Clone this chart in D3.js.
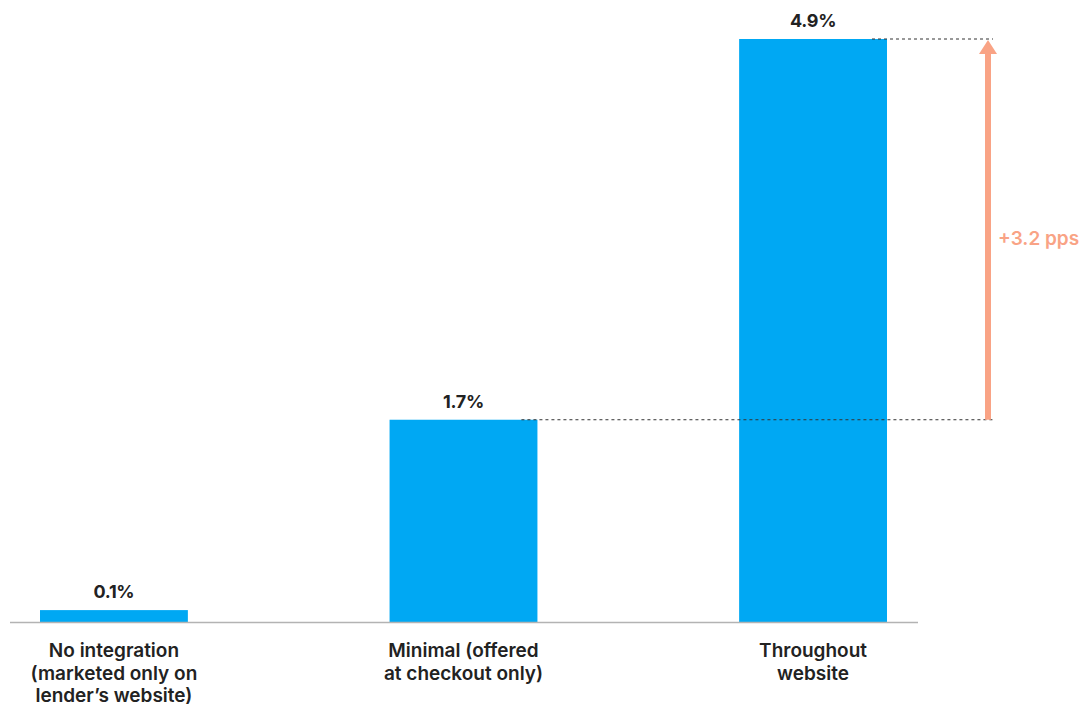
<!DOCTYPE html>
<html>
<head>
<meta charset="utf-8">
<script src="https://cdn.jsdelivr.net/npm/d3@7"></script>
<style>
  html, body { margin: 0; padding: 0; background: #fff; }
  svg text { font-family: Inter, "Liberation Sans", Arial, sans-serif; }
</style>
</head>
<body>
<svg id="chart" width="1083" height="704"></svg>
<script>
// Share of customers by level of integration
const categories = ["No integration", "Minimal", "Throughout website"];
const categoryLines = [
  ["No integration", "(marketed only on", "lender\u2019s website)"],
  ["Minimal (offered", "at checkout only)"],
  ["Throughout", "website"]
];
const values = [0.1, 1.7, 4.9];
const valueLabels = ["0.1%", "1.7%", "4.9%"];
const deltaLabel = "+3.2 pps";

const svg = d3.select("#chart");

const baseline = 622;
const x = d3.scaleBand()
  .domain(categories)
  .range([40, 887])
  .paddingInner(0.577)
  .paddingOuter(0);

const y = d3.scaleLinear()
  .domain([0, 4.9])
  .range([baseline, 39]);

// bars
svg.selectAll("rect.bar")
  .data(values)
  .join("rect")
  .attr("class", "bar")
  .attr("x", (d, i) => x(categories[i]))
  .attr("y", d => y(d))
  .attr("width", x.bandwidth())
  .attr("height", d => baseline - y(d))
  .attr("fill", "#00A8F3");

// baseline
svg.append("line")
  .attr("x1", 10).attr("x2", 918)
  .attr("y1", baseline + 0.5).attr("y2", baseline + 0.5)
  .attr("stroke", "#b3b3b3")
  .attr("stroke-width", 1.5);

// value labels
svg.selectAll("text.val")
  .data(values)
  .join("text")
  .attr("class", "val")
  .attr("x", (d, i) => x(categories[i]) + x.bandwidth() / 2)
  .attr("y", d => y(d) - 12)
  .attr("text-anchor", "middle")
  .attr("font-size", 18)
  .attr("font-weight", 700)
  .attr("letter-spacing", -0.3)
  .attr("fill", "#222")
  .text((d, i) => valueLabels[i]);

// category labels
const cat = svg.selectAll("text.cat")
  .data(categoryLines)
  .join("text")
  .attr("class", "cat")
  .attr("text-anchor", "middle")
  .attr("font-size", 19)
  .attr("font-weight", 600)
  .attr("fill", "#222")
  .attr("transform", (d, i) => `translate(${x(categories[i]) + x.bandwidth() / 2},0)`);
cat.selectAll("tspan")
  .data(d => d)
  .join("tspan")
  .attr("x", 0)
  .attr("y", (d, j) => 657 + j * 22.5)
  .text(d => d);

// difference guides
const arrowX = 988;
const lowY = y(values[1]);
const highY = y(values[2]);
svg.append("line")
  .attr("x1", x(categories[1]) + x.bandwidth() - 16).attr("x2", 993)
  .attr("y1", lowY).attr("y2", lowY)
  .attr("stroke", "#333").attr("stroke-width", 1)
  .attr("stroke-dasharray", "3,3");
svg.append("line")
  .attr("x1", x(categories[2]) + x.bandwidth() - 15).attr("x2", 993)
  .attr("y1", highY).attr("y2", highY)
  .attr("stroke", "#333").attr("stroke-width", 1)
  .attr("stroke-dasharray", "3,3");

// arrow
svg.append("rect")
  .attr("x", arrowX - 3).attr("y", highY + 12)
  .attr("width", 6).attr("height", lowY - highY - 12)
  .attr("fill", "#F9A385");
svg.append("path")
  .attr("d", `M${arrowX},${highY + 1} L${arrowX - 9},${highY + 15} L${arrowX + 9},${highY + 15} Z`)
  .attr("fill", "#F9A385");

svg.append("text")
  .attr("x", 998)
  .attr("y", (lowY + highY) / 2 + 16)
  .attr("font-size", 19)
  .attr("font-weight", 600)
  .attr("fill", "#F9A385")
  .text(deltaLabel);
</script>
</body>
</html>
